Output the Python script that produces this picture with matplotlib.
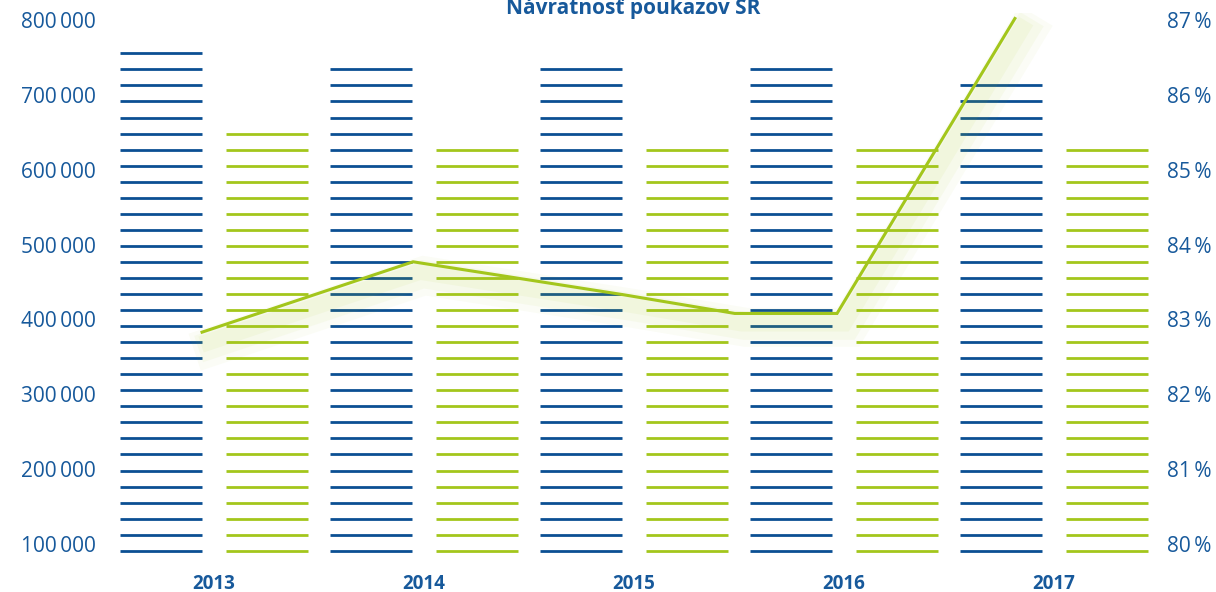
import numpy as np
import matplotlib
matplotlib.use('Agg')
import matplotlib.pyplot as plt
import matplotlib.patheffects as pe

plt.rcParams['font.family'] = ['Open Sans', 'DejaVu Sans']

# data
years = ['2013', '2014', '2015', '2016', '2017']
blue_values = [757000, 736000, 736000, 736000, 714000]
green_values = [650000, 628000, 628000, 628000, 628000]

# line (right axis, %), x in category units
line_x = [-0.057, 0.948, 1.95, 2.48, 2.967, 3.814]
line_pct = [82.83, 83.77, 83.33, 83.08, 83.08, 87.02]

BLUE = '#0b4f93'
GREEN = '#a3c61c'
TEXT = '#17599b'

# stripe pattern of the bars
stripe_base = 91050
stripe_step = 21433
bar_w = 0.39
offset = 0.252

fig = plt.figure(figsize=(12.16, 5.92), dpi=100)
ax = fig.add_axes([100 / 1216, 33 / 592, 1060 / 1216, 546.5 / 592])
ax2 = ax.twinx()

x = np.arange(len(years))


def draw_striped(xc, value, color):
    n = int((value - stripe_base) // stripe_step) + 1
    ys = stripe_base + stripe_step * np.arange(n)
    ax.hlines(ys, xc - bar_w / 2, xc + bar_w / 2, colors=color, lw=2.0,
              capstyle='butt')


for i in x:
    draw_striped(i - offset, blue_values[i], BLUE)
    draw_striped(i + offset, green_values[i], GREEN)

ax.set_xlim(-0.543, 4.505)
ax.set_ylim(80000, 810000)
ax.set_yticks(np.arange(100000, 800001, 100000))
ax.set_yticklabels([f'{v:,}'.replace(',', '\u2009') for v in range(100000, 800001, 100000)])
ax.set_xticks(x)
ax.set_xticklabels(years, fontweight='bold')

# line with soft shade below it
shadow = [pe.SimpleLineShadow(offset=(dx, dy), shadow_color=GREEN, alpha=a, rho=1.0,
                              linewidth=lw)
          for dx, dy, lw, a in [(8, -10, 28, 0.04), (7, -9, 20, 0.05), (5, -7, 12, 0.06)]]
ax2.plot(line_x, line_pct, color=GREEN, lw=2.2,
         path_effects=shadow + [pe.Normal()], solid_joinstyle='miter')
ax2.set_ylim(79.8, 87.1)
ax2.set_yticks(np.arange(80, 88))
ax2.set_yticklabels([f'{v}\u2009%' for v in range(80, 88)])

for a in (ax, ax2):
    for s in a.spines.values():
        s.set_visible(False)
    a.tick_params(length=0, colors=TEXT, labelsize=15)
ax.tick_params(axis='y', pad=3)
ax2.tick_params(axis='y', pad=5)
ax.tick_params(axis='x', pad=11, labelsize=13.5)
ax.set_zorder(0)
ax2.set_zorder(1)
ax2.patch.set_visible(False)

fig.text(0.521, 1 - 14 / 592, 'Návratnosť poukazov SR', ha='center', va='baseline',
         color=TEXT, fontsize=15, fontweight='bold')

fig.savefig('out.png', dpi=100)
